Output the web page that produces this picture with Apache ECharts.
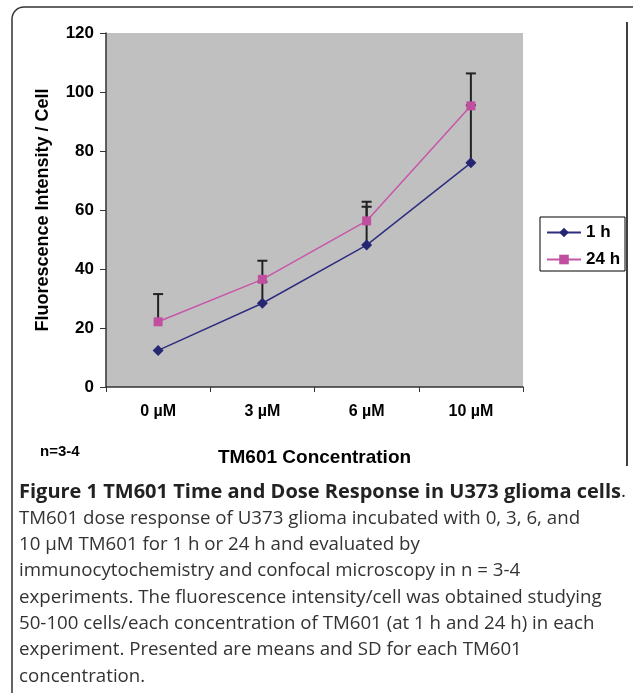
<!DOCTYPE html>
<html>
<head>
<meta charset="utf-8">
<script src="https://cdn.jsdelivr.net/npm/echarts@6/dist/echarts.min.js"></script>
<style>
  html, body { margin: 0; padding: 0; background: #fff; }
  #chart { width: 633px; height: 693px; }
</style>
</head>
<body>
<div id="chart"></div>
<script>
// Data
var categories = ['0 µM', '3 µM', '6 µM', '10 µM'];
var mean1h = [12.4, 28.4, 48.1, 76.0];
var mean24h = [22.1, 36.5, 56.3, 95.3];
var sd1h = [0, 7.3, 13.0, 19.5];
var sd24h = [9.4, 6.3, 6.5, 11.0];
var yTicks = { min: 0, max: 120, interval: 20 };

var captionLines = [
    'TM601 dose response of U373 glioma incubated with 0, 3, 6, and',
    '10 µM TM601 for 1 h or 24 h and evaluated by',
    'immunocytochemistry and confocal microscopy in n = 3-4',
    'experiments. The fluorescence intensity/cell was obtained studying',
    '50-100 cells/each concentration of TM601 (at 1 h and 24 h) in each',
    'experiment. Presented are means and SD for each TM601',
    'concentration.'
];

var font = '"Liberation Sans", Arial, sans-serif';

// upper error bar rows: [index, mean, mean + sd]
var errRows = function(means, sds) {
    var rows = [];
    means.forEach(function(m, i) {
        if (sds[i] > 0) rows.push([i, m, m + sds[i]]);
    });
    return rows;
};

var renderErr = function(params, api) {
    var lo = api.coord([api.value(0), api.value(1)]);
    var hi = api.coord([api.value(0), api.value(2)]);
    var st = { stroke: '#222', lineWidth: 2 };
    return {
        type: 'group',
        children: [
            { type: 'line', shape: { x1: lo[0], y1: lo[1], x2: hi[0], y2: hi[1] }, style: st },
            { type: 'line', shape: { x1: hi[0] - 5, y1: hi[1], x2: hi[0] + 5, y2: hi[1] }, style: st }
        ]
    };
};

var chart = echarts.init(document.getElementById('chart'));

var graphics = [
    // outer rounded frame
    { type: 'rect', shape: { x: 12, y: 7, width: 640, height: 700, r: 12 },
      style: { fill: 'none', stroke: '#333', lineWidth: 1.5 }, z: 0 },
    // right border of the chart picture
    { type: 'line', shape: { x1: 627, y1: 22, x2: 627, y2: 466 },
      style: { stroke: '#000', lineWidth: 1.5 } },
    { type: 'text', left: 40, top: 444,
      style: { text: 'n=3-4', font: 'bold 15px ' + font, fill: '#000' } },
    { type: 'text', left: 19, top: 482,
      style: {
          text: '{b|Figure 1 TM601 Time and Dose Response in U373 glioma cells}{r|.}',
          rich: {
              b: { font: 'bold 20px "Open Sans", sans-serif', fill: '#222' },
              r: { font: '19px "Open Sans", sans-serif', fill: '#222' }
          }
      } }
];
captionLines.forEach(function(t, i) {
    graphics.push({ type: 'text', left: 19, top: 509 + i * 26.3,
        style: { text: t, font: '18.7px "Open Sans", sans-serif', fill: '#333' } });
});

chart.setOption({
    animation: false,
    backgroundColor: '#fff',
    textStyle: { fontFamily: font },

    grid: {
        left: 106,
        right: 110,
        top: 33,
        bottom: 306,
        show: true,
        backgroundColor: '#c0c0c0',
        borderWidth: 0
    },

    legend: {
        orient: 'vertical',
        left: 540,
        top: 217,
        padding: [7, 5, 3, 6],
        itemGap: 10,
        itemWidth: 34,
        itemHeight: 12,
        borderColor: '#000',
        borderWidth: 1,
        backgroundColor: '#fff',
        textStyle: { fontSize: 17, fontWeight: 'bold', color: '#000', fontFamily: font },
        data: ['1 h', '24 h']
    },

    xAxis: {
        type: 'category',
        data: categories,
        name: 'TM601 Concentration',
        nameLocation: 'middle',
        nameGap: 61,
        nameTextStyle: { fontSize: 19, fontWeight: 'bold', color: '#000' },
        axisLine: { lineStyle: { color: '#333', width: 1.5 } },
        axisTick: { show: true, length: 5, interval: 0, lineStyle: { color: '#333' } },
        axisLabel: { fontSize: 16, fontWeight: 'bold', color: '#000', margin: 17 },
        splitLine: { show: false }
    },

    yAxis: {
        type: 'value',
        min: yTicks.min,
        max: yTicks.max,
        interval: yTicks.interval,
        name: 'Fluorescence Intensity / Cell',
        nameLocation: 'middle',
        nameGap: 54,
        nameTextStyle: { fontSize: 18, fontWeight: 'bold', color: '#000' },
        axisLine: { show: true, lineStyle: { color: '#333', width: 1.5 } },
        axisTick: { show: true, length: 6, lineStyle: { color: '#333' } },
        axisLabel: { fontSize: 17, fontWeight: 'bold', color: '#000', margin: 12 },
        splitLine: { show: false }
    },

    series: [
        {
            name: 'err1h',
            type: 'custom',
            renderItem: renderErr,
            data: errRows(mean1h, sd1h),
            z: 1,
            silent: true
        },
        {
            name: 'err24h',
            type: 'custom',
            renderItem: renderErr,
            data: errRows(mean24h, sd24h),
            z: 1,
            silent: true
        },
        {
            name: '1 h',
            type: 'line',
            data: mean1h,
            symbol: 'diamond',
            symbolSize: 11,
            showAllSymbol: true,
            color: '#262673',
            lineStyle: { color: '#2e2e80', width: 1.5 },
            itemStyle: { color: '#262673' },
            z: 3
        },
        {
            name: '24 h',
            type: 'line',
            data: mean24h,
            symbol: 'rect',
            symbolSize: 9,
            showAllSymbol: true,
            color: '#c04fa0',
            lineStyle: { color: '#c856a8', width: 1.5 },
            itemStyle: { color: '#c04fa0' },
            z: 3
        }
    ],

    graphic: graphics
});
</script>
</body>
</html>
